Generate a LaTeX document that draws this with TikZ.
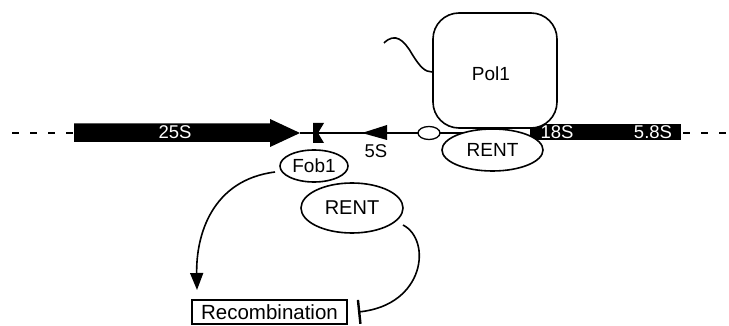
\documentclass[tikz,border=0pt]{standalone}
\usepackage{fontspec}
\setmainfont{Liberation Sans}
\usetikzlibrary{shapes.geometric,arrows.meta}
\begin{document}
\begin{tikzpicture}[x=1pt,y=-1pt,line width=1.6pt,
  txt/.style={inner sep=0pt,font=\fontsize{#1}{#1}\selectfont},
  txt/.default=19,
  oval/.style={draw,fill=white,ellipse,inner sep=0pt},
  dna/.style={line width=1.4pt},
  dashes/.style={line width=1.4pt,dash pattern=on 7pt off 11pt},
  gene/.style={fill=black}]
\useasboundingbox (0,0) rectangle (729,326);

% rDNA backbone
\coordinate (lftEnd) at (12,133);
\coordinate (lftBar) at (74,133);
\coordinate (rgtBar) at (683,133);
\coordinate (rgtEnd) at (729,133);
\coordinate (spcA) at (300,133);
\coordinate (spcB) at (470,133);
\draw[dashes] (lftEnd) -- (lftBar);
\draw[dashes] (rgtBar) -- (rgtEnd);
\draw[dna] (spcA) -- (spcB);

% 25S gene with its arrow head
\fill[gene] (74,123.5) -- (270,123.5) -- (270,119) -- (300,133) -- (270,147)
  -- (270,142) -- (74,142) -- cycle;
\node[txt=18.5,text=white] (l25) at (175,132) {25S};

% replication fork barrier
\fill[gene] (313,123) -- (324,123) -- (318,133) -- (324,143) -- (313,143) -- cycle;

% 5S gene
\fill[gene] (362,133) -- (387,125) -- (387,140) -- cycle;
\node[txt=18.5] (l5) at (376,151) {5S};

% origin
\node[oval,line width=1.3pt,minimum width=22pt,minimum height=13pt] (ori) at (429,133) {};

% 18S / 5.8S gene block
\fill[gene] (530,124.5) rectangle (681,140.5);
\node[txt=18.5,text=white] (l18) at (557,132) {18S};
\node[txt=18.5,text=white] (l58) at (653,132) {5.8S};

% RNA polymerase I and its transcript
\node[draw,fill=white,rounded corners=26pt,minimum width=124pt,minimum height=115pt,
  inner sep=0pt] (pol) at (495,70.5) {};
\node[txt] (polLbl) at (491,74) {Pol1};
\coordinate (rnaEnd) at (384,43);
\draw (rnaEnd) .. controls (395,32) and (404,40) .. (412,54)
  .. controls (420,67) and (425,72) .. ([yshift=-1.5pt]pol.west);

% RENT at the promoter
\node[oval,minimum width=101pt,minimum height=42pt,txt] (rentR) at (492.5,150) {RENT};

% Fob1 / RENT at the barrier
\node[oval,minimum width=102pt,minimum height=50pt,txt=20] (rentL) at (352,208) {RENT};
\node[oval,minimum width=68pt,minimum height=32pt,txt] (fob) at (314,166) {Fob1};

% recombination
\node[draw,line width=1.3pt,minimum width=155pt,minimum height=24pt,inner sep=0pt,
  txt=20.5] (rec) at (269.5,312) {Recombination};

\coordinate (actStart) at (275,172);
\coordinate (actEnd) at (197,290);
\draw[-{Triangle[length=17pt,width=13pt]}] (actStart)
  .. controls (212,180) and (196,235) .. (actEnd);

\coordinate (inhStart) at (403,225);
\coordinate (inhEnd) at (358,312);
\draw[-{Bar[width=24pt,line width=2.4pt]}] (inhStart)
  .. controls (432,240) and (425,305) .. (inhEnd);
\end{tikzpicture}
\end{document}
